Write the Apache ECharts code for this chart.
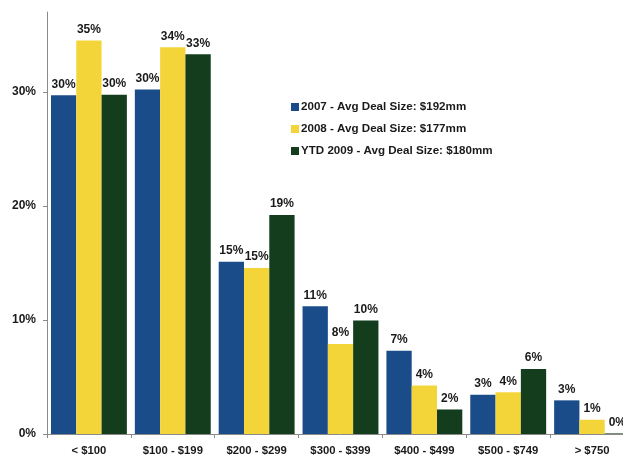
<!DOCTYPE html>
<html><head><meta charset="utf-8">
<script src="https://cdn.jsdelivr.net/npm/echarts@6/dist/echarts.min.js"></script>
<style>html,body{margin:0;padding:0;background:#fff;overflow:hidden}#c{width:635px;height:459px}</style>
</head><body><div id="c"></div>
<script>
var categories = ['< $100', '$100 - $199', '$200 - $299', '$300 - $399', '$400 - $499', '$500 - $749', '> $750'];
var seriesNames = ['2007 - Avg Deal Size: $192mm', '2008 - Avg Deal Size: $177mm', 'YTD 2009 - Avg Deal Size: $180mm'];
var values2007 = [29.7, 30.2, 15.1, 11.2, 7.3, 3.45, 2.95];
var values2008 = [34.5, 33.9, 14.55, 7.9, 4.25, 3.65, 1.25];
var valuesYTD2009 = [29.75, 33.3, 19.2, 9.95, 2.15, 5.7, 0.05];
var yTicks = [0, 10, 20, 30];

var colors = ['#1b4c8a', '#f3d53a', '#133d1c'];
var font = 'Liberation Sans, Arial, sans-serif';
function mk(name, data, color) {
  return {
    name: name, type: 'bar', data: data, barGap: '0%', barCategoryGap: '9.5%',
    itemStyle: { color: color },
    label: { show: true, position: 'top', distance: 5, color: '#1a1a1a', fontWeight: 'bold', fontSize: 12, fontFamily: font,
      formatter: function (p) { return Math.round(p.value) + '%'; } }
  };
}
var chart = echarts.init(document.getElementById('c'));
chart.setOption({
  animation: false,
  grid: { left: 47, right: 1, top: 12, bottom: 25 },
  legend: {
    orient: 'vertical', left: 286, top: 96, itemWidth: 8, itemHeight: 8, itemGap: 10, icon: 'rect',
    textStyle: { fontWeight: 'bold', fontSize: 11.6, color: '#1a1a1a', fontFamily: font, padding: [0, 0, 0, -3] },
    data: seriesNames
  },
  xAxis: {
    type: 'category', data: categories,
    axisLine: { lineStyle: { color: '#8a8a8a', width: 1 } },
    axisTick: { show: true, length: 4, lineStyle: { color: '#8a8a8a' } },
    axisLabel: { color: '#1a1a1a', fontWeight: 'bold', fontSize: 11.3, fontFamily: font, margin: 11 }
  },
  yAxis: {
    type: 'value', min: 0, max: 37, interval: 10,
    splitLine: { show: false },
    axisLine: { show: true, lineStyle: { color: '#8a8a8a', width: 1 } },
    axisTick: { show: true, length: 4, lineStyle: { color: '#8a8a8a' }, customValues: yTicks },
    axisLabel: { color: '#1a1a1a', fontWeight: 'bold', fontSize: 12, fontFamily: font, margin: 11, customValues: yTicks,
      formatter: function (v) { return v + '%'; } }
  },
  series: [mk(seriesNames[0], values2007, colors[0]), mk(seriesNames[1], values2008, colors[1]), mk(seriesNames[2], valuesYTD2009, colors[2])]
});
</script></body></html>
